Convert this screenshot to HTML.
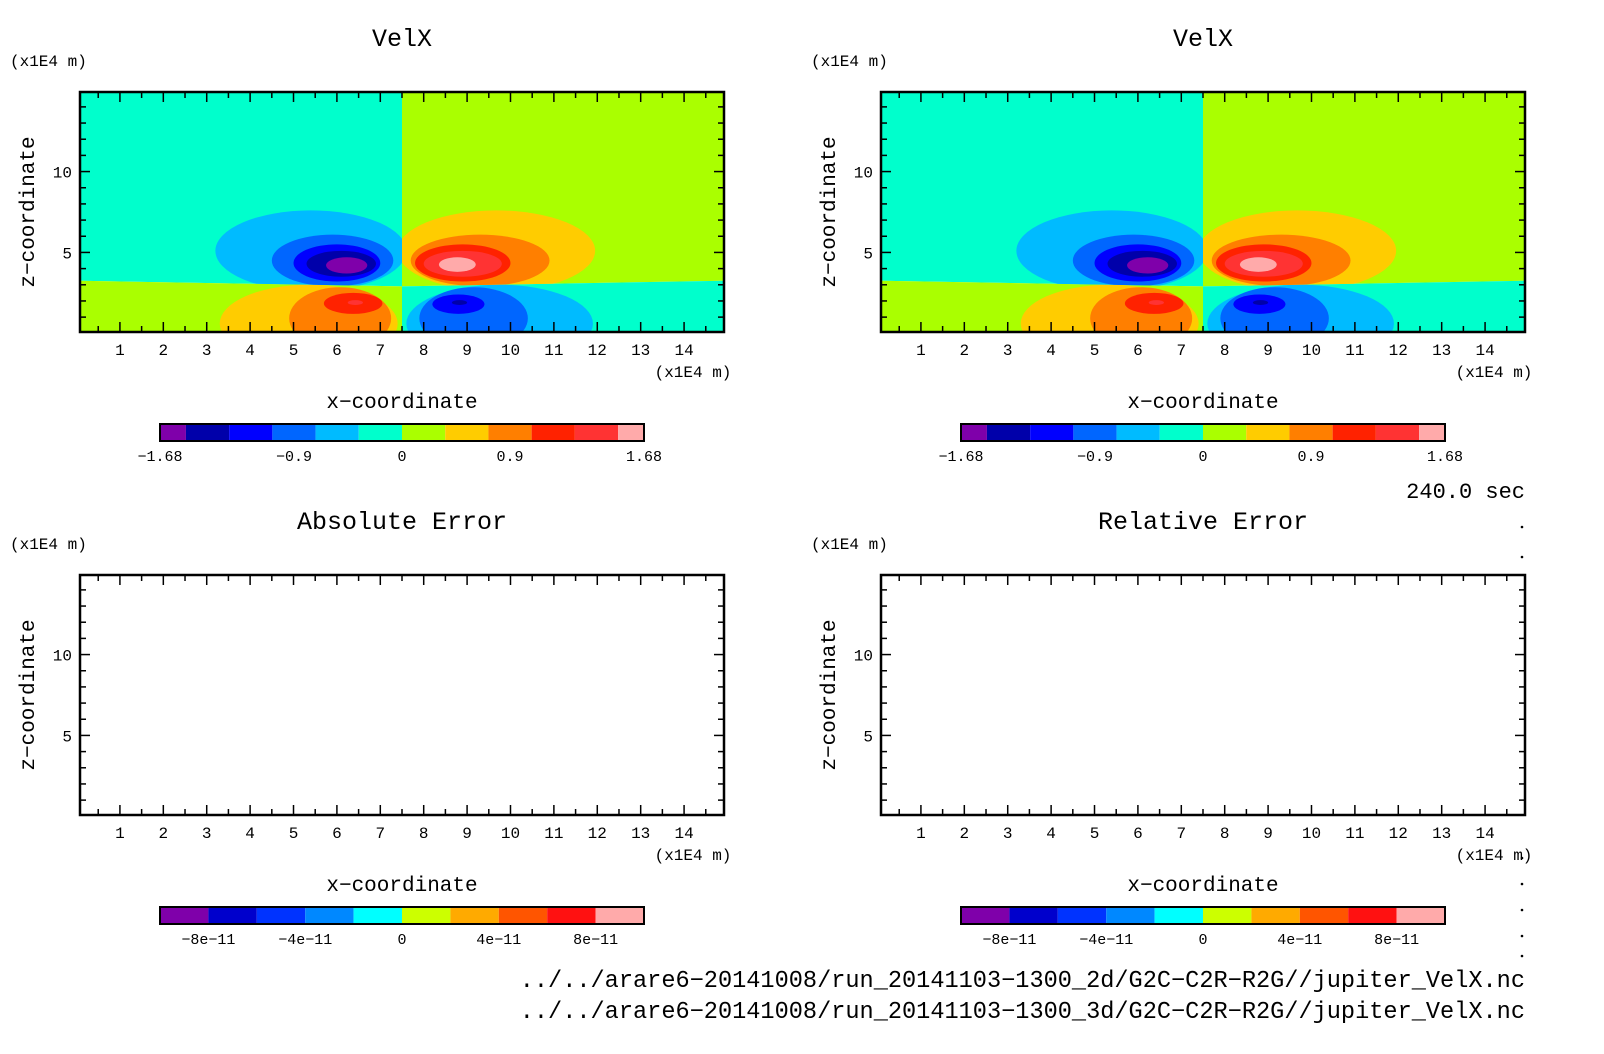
<!DOCTYPE html>
<html><head><meta charset="utf-8">
<style>
html,body{margin:0;padding:0;background:#fff;}
svg{display:block;font-family:"Liberation Mono",monospace;}
</style></head>
<body>
<svg id="c" width="1604" height="1054" viewBox="0 0 1604 1054"></svg>
<script>
// ---- data ----
const palette = ['#7f00aa','#0000aa','#0000ff','#0066ff','#00bbff','#00ffcc','#aaff00','#ffcc00','#ff7f00','#ff2200','#ff3333','#ffaaaa'];
const errPalette = ['#7f00aa','#0000cc','#0033ff','#0088ff','#00ffff','#ccff00','#ffaa00','#ff5500','#ff1111','#ffaaaa'];
const velxTickLabels = ['-1.68','-0.9','0','0.9','1.68'];
const errTickLabels = ['-8e-11','-4e-11','0','4e-11','8e-11'];
const xTicks = [1,2,3,4,5,6,7,8,9,10,11,12,13,14];
const zTicks = [5,10];
// boundary between upper/lower regimes: [x, z]
const boundaryX = [0, 7.5, 15];
const boundaryZ = [3.3, 2.9, 3.3];
// blobs: quadrant, palette level, x1, x2, z1, z2
const blobQuad  = ['UL','UL','UL','UL','UL','UR','UR','UR','UR','UR','LL','LL','LL','LL','LR','LR','LR','LR'];
const blobLevel = [4,3,2,1,0, 7,8,9,10,11, 7,8,9,10, 4,3,2,1];
const blobX1 = [3.2,4.5,5.0,5.3,5.75, 7.4,7.7,7.8,8.0,8.35, 3.3,4.9,5.7,6.25, 7.6,7.9,8.2,8.65];
const blobX2 = [7.6,7.3,7.0,6.9,6.7, 11.95,10.9,10.0,9.8,9.2, 7.4,7.25,7.05,6.6, 11.9,10.4,9.4,9.0];
const blobZ1 = [2.6,2.9,3.2,3.5,3.7, 2.6,2.9,3.2,3.5,3.8, -1.8,-1.0,1.2,1.75, -1.8,-1.0,1.2,1.75];
const blobZ2 = [7.6,6.1,5.5,5.1,4.7, 7.6,6.1,5.5,5.1,4.7, 3.0,2.85,2.5,2.05, 3.0,2.85,2.4,2.05];

const NS='http://www.w3.org/2000/svg';
const svg=document.getElementById('c');
function mk(tag,attrs,parent){const e=document.createElementNS(NS,tag);for(const k in attrs)e.setAttribute(k,attrs[k]);(parent||svg).appendChild(e);return e;}
function txt(s,x,y,size,anchor,parent){const t=mk('text',{x:x,y:y,'font-size':size,'text-anchor':anchor||'middle',fill:'#000'},parent);t.textContent=s;return t;}

const PW=644, PH=240, XMIN=0.08, XMAX=14.92, ZMIN=0.08, ZMAX=14.92;

function panel(L,T,title,filled,idx){
  const g=mk('g',{});
  
  
  const sx=v=>L+(v-XMIN)/(XMAX-XMIN)*PW;
  const sz=v=>T+PH-(v-ZMIN)/(ZMAX-ZMIN)*PH;
  const tt=txt(title,L+322,T-46,25,'middle',g);
  
  
  const yu=txt('(x1E4 m)',L-70,T-26,16,'start',g);
  
  
  if(filled){
    const cid='clip'+idx;
    const cp=mk('clipPath',{id:cid},g);
    mk('rect',{x:L,y:T,width:PW,height:PH},cp);
    const fg=mk('g',{'clip-path':'url(#'+cid+')'},g);
    
    
    const bx=boundaryX.map(sx), bz=boundaryZ.map(sz);
    const regions={
      UL:[[sx(-1),sz(20)],[bx[1],sz(20)],[bx[1],bz[1]],[sx(-1),bz[0]]],
      UR:[[bx[1],sz(20)],[sx(16),sz(20)],[sx(16),bz[2]],[bx[1],bz[1]]],
      LL:[[sx(-1),bz[0]],[bx[1],bz[1]],[bx[1],sz(-2)],[sx(-1),sz(-2)]],
      LR:[[bx[1],bz[1]],[sx(16),bz[2]],[sx(16),sz(-2)],[bx[1],sz(-2)]]
    };
    const bg={UL:5,UR:6,LL:6,LR:5};
    for(const q in regions){
      const pts=regions[q].map(p=>p.join(',')).join(' ');
      const qc=mk('clipPath',{id:cid+q},g);
      mk('polygon',{points:pts},qc);
      const r=mk('polygon',{points:pts,fill:palette[bg[q]]},fg);
      
      
    }
    for(let i=0;i<blobLevel.length;i++){
      const x1=sx(blobX1[i]),x2=sx(blobX2[i]),z1=sz(blobZ1[i]),z2=sz(blobZ2[i]);
      const e=mk('ellipse',{cx:(x1+x2)/2,cy:(z1+z2)/2,rx:Math.abs(x2-x1)/2,ry:Math.abs(z1-z2)/2,fill:palette[blobLevel[i]],'clip-path':'url(#'+cid+blobQuad[i]+')'},fg);
      
      
    }
  }
  const fr=mk('rect',{x:L,y:T,width:PW,height:PH,fill:'none',stroke:'#000','stroke-width':2.5},g);
  
  
  for(let v=0.5; v<15; v+=0.5){
    const X=sx(v), major=Number.isInteger(v), len=major?10:6;
    mk('line',{x1:X,y1:T+PH,x2:X,y2:T+PH-len,stroke:'#000','stroke-width':1.5},g);
    mk('line',{x1:X,y1:T,x2:X,y2:T+len,stroke:'#000','stroke-width':1.5},g);
  }
  xTicks.forEach(v=>{const t=txt(String(v),sx(v),T+PH+23,16,'middle',g);
    });
  for(let v=1; v<15; v+=1){
    const Y=sz(v), major=(v%5===0), len=major?10:6;
    mk('line',{x1:L,y1:Y,x2:L+len,y2:Y,stroke:'#000','stroke-width':1.5},g);
    mk('line',{x1:L+PW,y1:Y,x2:L+PW-len,y2:Y,stroke:'#000','stroke-width':1.5},g);
  }
  zTicks.forEach(v=>{const t=txt(String(v),L-8,sz(v)+6,16,'end',g);
    });
  const xu=txt('(x1E4 m)',L+PW-31,T+PH+45,16,'middle',g);
  
  const xl=txt('x\u2212coordinate',L+322,T+PH+76,21,'middle',g);
  
  const yl=txt('z\u2212coordinate',0,0,21,'middle',g);
  yl.setAttribute('transform','translate('+(L-46)+','+(T+120)+') rotate(-90)');
  
  const cg=mk('g',{},g);
  
  const CL=L+80, CW=484, CT=T+PH+92, CH=17;
  if(filled){
    const n=palette.length, unit=CW/(n-2+1.2);
    let x=CL;
    for(let i=0;i<n;i++){const w=(i===0||i===n-1)?unit*0.6:unit;
      const r=mk('rect',{x:x,y:CT,width:w,height:CH,fill:palette[i]},cg);
      x+=w;}
    const pos=[CL, CL+unit*0.6+unit*2.5, CL+CW/2, CL+CW-unit*0.6-unit*2.5, CL+CW];
    velxTickLabels.forEach((s,i)=>{const t=txt(s.replace('-','\u2212'),pos[i],CT+CH+20,15,'middle',cg);
      });
  } else {
    const n=errPalette.length, w=CW/n;
    errPalette.forEach((c,i)=>{const r=mk('rect',{x:CL+i*w,y:CT,width:w,height:CH,fill:c},cg);
      });
    errTickLabels.forEach((s,i)=>{const t=txt(s.replace('-','\u2212').replace('e-','e\u2212'),CL+w*(1+2*i),CT+CH+20,15,'middle',cg);
      });
  }
  mk('rect',{x:CL,y:CT,width:CW,height:CH,fill:'none',stroke:'#000','stroke-width':2},cg);
}
panel(80,92,'VelX',true,1);
panel(881,92,'VelX',true,2);
panel(80,575,'Absolute Error',false,3);
panel(881,575,'Relative Error',false,4);

const tm=txt('240.0 sec',1525,498,22,'end');

const f1=txt('../../arare6\u221220141008/run_20141103\u22121300_2d/G2C\u2212C2R\u2212R2G//jupiter_VelX.nc',1525,987,23.6,'end');

const f2=txt('../../arare6\u221220141008/run_20141103\u22121300_3d/G2C\u2212C2R\u2212R2G//jupiter_VelX.nc',1525,1018,23.6,'end');

[527,557,858,884,910,936,956].forEach(y=>{mk('circle',{cx:1522,cy:y,r:1.3,fill:'#000'});});
</script>
</body></html>
